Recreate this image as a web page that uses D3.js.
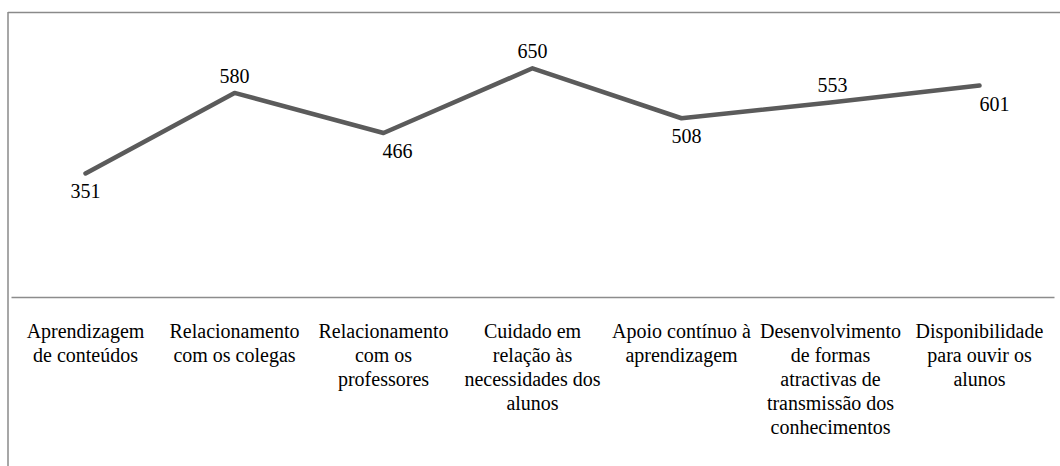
<!DOCTYPE html>
<html>
<head>
    <meta charset="utf-8">
    <script src="https://d3js.org/d3.v7.min.js"></script>
</head>
<body style="margin:0">
    <svg width="1060" height="466"></svg>
    <script>

        // data
        var categories = [
            "Aprendizagem de conteúdos",
            "Relacionamento com os colegas",
            "Relacionamento com os professores",
            "Cuidado em relação às necessidades dos alunos",
            "Apoio contínuo à aprendizagem",
            "Desenvolvimento de formas atractivas de transmissão dos conhecimentos",
            "Disponibilidade para ouvir os alunos"
        ];
        var values = [351, 580, 466, 650, 508, 553, 601];

        // tick labels as they wrap in the picture
        var tickLabels = [
            ["Aprendizagem", "de conteúdos"],
            ["Relacionamento", "com os colegas"],
            ["Relacionamento", "com os", "professores"],
            ["Cuidado em", "relação às", "necessidades dos", "alunos"],
            ["Apoio contínuo à", "aprendizagem"],
            ["Desenvolvimento", "de formas", "atractivas de", "transmissão dos", "conhecimentos"],
            ["Disponibilidade", "para ouvir os", "alunos"]
        ];

        // where each data label sits relative to its point
        var labelSide = ["below", "above", "below", "above", "below", "above", "below"];
        var labelNudge = [0, 0, 14, 0, 5, 2, 15];

        var serif = "'Times New Roman'";

        var svg = d3.select("svg"),
            plotLeft = 11, plotRight = 1054,
            plotTop = 15.5, plotBase = 297;

        var x = d3.scaleBand()
                  .domain(categories)
                  .range([plotLeft, plotRight]);

        var y = d3.scaleLinear()
                  .domain([0, 800])
                  .range([plotBase, plotTop]);

        // chart frame (top and left edges visible)
        svg.append("line")
           .attr("x1", 8).attr("x2", 1060)
           .attr("y1", 12.5).attr("y2", 12.5)
           .attr("stroke", "#8a8a8a").attr("stroke-width", 1.5);
        svg.append("line")
           .attr("x1", 8).attr("x2", 8)
           .attr("y1", 12).attr("y2", 466)
           .attr("stroke", "#8a8a8a").attr("stroke-width", 1.5);

        // category axis line
        var xAxis = svg.append("g")
                       .attr("transform", "translate(0," + plotBase + ")")
                       .call(d3.axisBottom(x).tickSize(0).tickFormat(""));
        xAxis.select(".domain")
             .attr("stroke", "#8c8c8c")
             .attr("stroke-width", 1.6);

        // category labels at the band centres
        categories.forEach(function(c, i) {
            tickLabels[i].forEach(function(txt, k) {
                svg.append("text")
                   .attr("x", x(c) + x.bandwidth() / 2)
                   .attr("y", plotBase + 41 + k * 24)
                   .attr("text-anchor", "middle")
                   .attr("font-family", "Times New Roman")
                   .style("font-family", serif)
                   .style("font-size", "20px")
                   .text(txt);
            });
        });

        // line
        var line = d3.line()
                     .x(function(d, i) { return x(categories[i]) + x.bandwidth() / 2; })
                     .y(function(d) { return y(d); });

        svg.append("path")
           .datum(values)
           .attr("d", line)
           .attr("fill", "none")
           .attr("stroke", "#5b5b5b")
           .attr("stroke-width", 4.5)
           .attr("stroke-linecap", "round")
           .attr("stroke-linejoin", "round");

        // data labels
        svg.selectAll(".value")
           .data(values)
           .enter().append("text")
           .attr("class", "value")
           .attr("text-anchor", "middle")
           .attr("font-family", "Times New Roman")
           .style("font-family", serif)
           .style("font-size", "20px")
           .attr("x", function(d, i) { return x(categories[i]) + x.bandwidth() / 2 + labelNudge[i]; })
           .attr("y", function(d, i) { return y(d) + (labelSide[i] === "above" ? -10 : 25); })
           .text(function(d) { return d; });

    </script>
</body>
</html>
